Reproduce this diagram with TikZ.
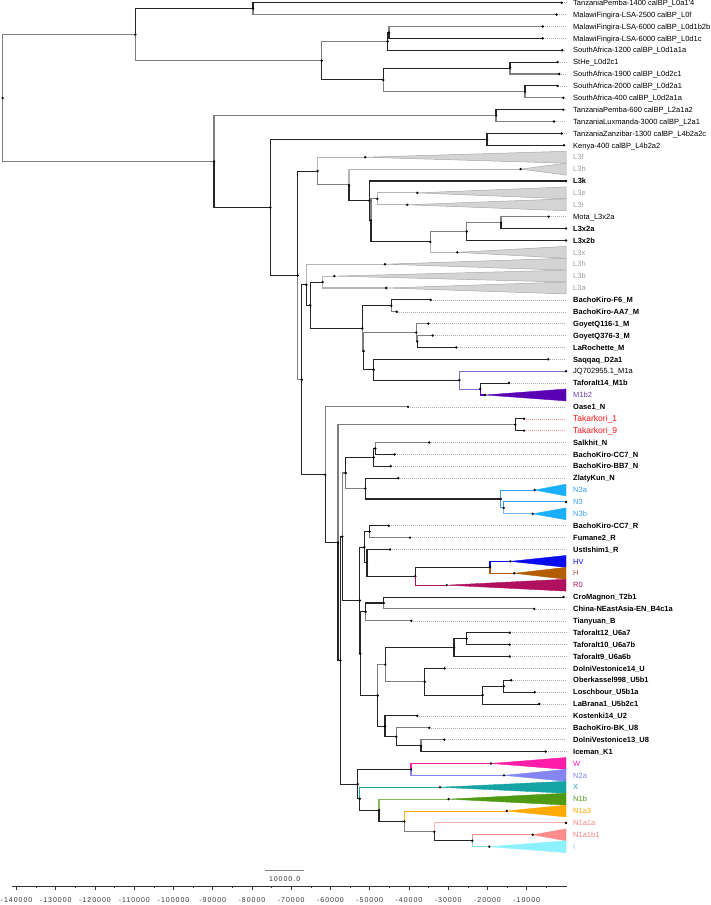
\documentclass[tikz,border=0pt]{standalone}
\usepackage{fontspec}
\setmainfont{Liberation Sans}
\newfontfamily\axisfont[LetterSpace=14]{Liberation Sans}
\definecolor{brd}{HTML}{262626}
\definecolor{brgray}{HTML}{7F7F7F}
\definecolor{brlight}{HTML}{B4B4B4}
\definecolor{dotc}{HTML}{B0B0B0}
\definecolor{l3fill}{HTML}{D4D4D4}
\definecolor{l3draw}{HTML}{A8A8A8}
\definecolor{l3lab}{HTML}{A0A0A0}
\definecolor{m1line}{HTML}{7A6FD0}
\definecolor{m1b2}{HTML}{5A00B4}
\definecolor{m1lab}{HTML}{6A3FB0}
\definecolor{n3line}{HTML}{3A9CF0}
\definecolor{n3tri}{HTML}{1AB0FF}
\definecolor{n3lab}{HTML}{3D9CF5}
\definecolor{hvc}{HTML}{0A0AF0}
\definecolor{hc}{HTML}{B35C00}
\definecolor{hlab}{HTML}{A0522D}
\definecolor{r0c}{HTML}{B0105E}
\definecolor{wc}{HTML}{FF1CA8}
\definecolor{n2ac}{HTML}{8585F2}
\definecolor{xc}{HTML}{16A3A3}
\definecolor{n1bc}{HTML}{4F9A12}
\definecolor{n1a3c}{HTML}{FFAA00}
\definecolor{n1a1ac}{HTML}{FFB0B0}
\definecolor{n1a1alab}{HTML}{FF8080}
\definecolor{n1b1c}{HTML}{FF8C8C}
\definecolor{ic}{HTML}{8CF0FF}
\definecolor{iline}{HTML}{7FD4F0}
\definecolor{ilab}{HTML}{66CCFF}
\definecolor{takc}{HTML}{FF1010}
\definecolor{takdot}{HTML}{FF9A9A}
\definecolor{axc}{HTML}{333333}
\begin{document}
\begin{tikzpicture}[x=1pt,y=-1pt,
  br/.style={draw=brd, line width=1.05pt},
  brg/.style={draw=brgray, line width=1.05pt},
  brl/.style={draw=brlight, line width=1.05pt},
  brc/.style={draw=#1, line width=1.05pt},
  dotl/.style={draw=dotc, line width=0.5pt, dash pattern=on 0.7pt off 1.3pt},
  dotr/.style={draw=takdot, line width=0.5pt, dash pattern=on 0.7pt off 1.3pt},
  lab/.style={anchor=base west, yshift=-2.7pt, inner sep=0pt, font=\fontsize{7.5}{8}\selectfont},
  labb/.style={anchor=base west, yshift=-2.7pt, inner sep=0pt, font=\fontsize{7.5}{8}\selectfont\bfseries},
  labt/.style={anchor=base west, yshift=-3.05pt, inner sep=0pt, text=takc, font=\fontsize{8.5}{9}\selectfont},
  tri/.style={fill=#1, draw=#1, line width=0.4pt},
  trl3/.style={fill=l3fill, draw=l3draw, line width=0.5pt},
  axlab/.style={inner sep=0pt, font=\fontsize{7}{8}\axisfont, text=axc}
]
\useasboundingbox (0,0) rectangle (711,905);
\newcommand\mkleaf[3]{\coordinate (t#1) at (#2,#3); \coordinate (e#1) at (566,#3);}
\newcommand\dotat[1]{\fill (#1) circle (1.35pt);}
\newcommand\mktri[2]{\filldraw[#2] (t#1) -- ([yshift=-5.94pt]e#1) -- ([yshift=5.94pt]e#1) -- cycle;}
% leaves
\mkleaf{0}{561.7}{2.7}
\mkleaf{1}{556.7}{14.59}
\mkleaf{2}{542.7}{26.47}
\mkleaf{3}{542.7}{38.36}
\mkleaf{4}{562.3}{50.25}
\mkleaf{5}{557.7}{62.14}
\mkleaf{6}{559.3}{74.02}
\mkleaf{7}{557.7}{85.91}
\mkleaf{8}{563.3}{97.80}
\mkleaf{9}{563.3}{109.68}
\mkleaf{10}{554}{121.57}
\mkleaf{11}{561.7}{133.46}
\mkleaf{12}{564}{145.34}
\mkleaf{13}{365.3}{157.23}
\mkleaf{14}{520.7}{169.12}
\mkleaf{15}{566}{181.01}
\mkleaf{16}{417.3}{192.89}
\mkleaf{17}{407.3}{204.78}
\mkleaf{18}{548.7}{216.67}
\mkleaf{19}{566}{228.55}
\mkleaf{20}{566}{240.44}
\mkleaf{21}{457.3}{252.33}
\mkleaf{22}{385}{264.21}
\mkleaf{23}{334.3}{276.10}
\mkleaf{24}{386.3}{287.99}
\mkleaf{25}{430.7}{299.88}
\mkleaf{26}{396.7}{311.76}
\mkleaf{27}{428.3}{323.65}
\mkleaf{28}{432.7}{335.54}
\mkleaf{29}{456.3}{347.42}
\mkleaf{30}{548.3}{359.31}
\mkleaf{31}{566}{371.20}
\mkleaf{32}{509}{383.08}
\mkleaf{33}{485}{394.97}
\mkleaf{34}{408}{406.86}
\mkleaf{35}{524}{418.75}
\mkleaf{36}{524}{430.63}
\mkleaf{37}{429.3}{442.52}
\mkleaf{38}{394.7}{454.41}
\mkleaf{39}{390.7}{466.29}
\mkleaf{40}{398.3}{478.18}
\mkleaf{41}{534.7}{490.07}
\mkleaf{42}{566}{501.95}
\mkleaf{43}{532.7}{513.84}
\mkleaf{44}{388.7}{525.73}
\mkleaf{45}{410}{537.62}
\mkleaf{46}{390}{549.50}
\mkleaf{47}{510.3}{561.39}
\mkleaf{48}{514.3}{573.28}
\mkleaf{49}{446.7}{585.16}
\mkleaf{50}{563.5}{597.05}
\mkleaf{51}{534.3}{608.94}
\mkleaf{52}{411.3}{620.82}
\mkleaf{53}{509.7}{632.71}
\mkleaf{54}{509.7}{644.60}
\mkleaf{55}{509.7}{656.48}
\mkleaf{56}{444.7}{668.37}
\mkleaf{57}{511.3}{680.26}
\mkleaf{58}{534.7}{692.15}
\mkleaf{59}{539.3}{704.03}
\mkleaf{60}{417.3}{715.92}
\mkleaf{61}{429.3}{727.81}
\mkleaf{62}{444.3}{739.69}
\mkleaf{63}{545.7}{751.58}
\mkleaf{64}{491}{763.47}
\mkleaf{65}{504}{775.35}
\mkleaf{66}{440}{787.24}
\mkleaf{67}{448.7}{799.13}
\mkleaf{68}{506.7}{811.02}
\mkleaf{69}{566}{822.90}
\mkleaf{70}{532.7}{834.79}
\mkleaf{71}{489.3}{846.68}
% internal nodes
\coordinate (root) at (2.7,98.09);
\coordinate (A) at (135.3,34.65);
\coordinate (a01) at (253,8.65);
\coordinate (B) at (321.7,60.65);
\coordinate (q234) at (387.7,41.33);
\coordinate (q23) at (389,32.42);
\coordinate (q5678) at (383.3,79.97);
\coordinate (q56) at (510,68.08);
\coordinate (q78) at (525,91.86);
\coordinate (C) at (214,161.52);
\coordinate (L2) at (496,115.63);
\coordinate (D) at (270.3,207.4);
\coordinate (L4) at (487,139.4);
\coordinate (E) at (297.7,275.4);
\coordinate (F) at (317.7,171.07);
\coordinate (G) at (349,184.91);
\coordinate (H1) at (369.3,200.7);
\coordinate (H2) at (371,220.39);
\coordinate (Lei) at (377.3,198.84);
\coordinate (Q) at (430.3,241.93);
\coordinate (R) at (466.7,231.53);
\coordinate (S) at (501,222.61);
\coordinate (I) at (301.7,379.73);
\coordinate (J) at (306.3,284.74);
\coordinate (Ln) at (310.3,305.27);
\coordinate (Lba) at (322.7,282.05);
\coordinate (Mn) at (362.3,328.48);
\coordinate (Mn1) at (391.3,305.82);
\coordinate (Mn2) at (363.7,351.14);
\coordinate (Gy) at (416.3,332.57);
\coordinate (Gy2) at (417.3,341.48);
\coordinate (Sq) at (373.7,369.71);
\coordinate (M1) at (459.3,380.12);
\coordinate (M1b) at (480.3,389.03);
\coordinate (K) at (325.3,474.71);
\coordinate (K2) at (338,542.56);
\coordinate (Tak) at (515.3,424.69);
\coordinate (K3) at (340.3,660.42);
\coordinate (K4) at (342.3,536.74);
\coordinate (Ns) at (345.7,472.98);
\coordinate (Ns1) at (373.7,457.38);
\coordinate (Ns1a) at (375.3,448.47);
\coordinate (Ns2) at (365.3,488.58);
\coordinate (N3n) at (500.7,498.98);
\coordinate (N3n2) at (503.7,507.9);
\coordinate (Rr) at (359.7,600.49);
\coordinate (Rr1) at (364.3,547.27);
\coordinate (Rr1a) at (369.7,531.67);
\coordinate (Rr1b) at (367,562.87);
\coordinate (Rh) at (415.3,576.25);
\coordinate (HVH) at (490,567.33);
\coordinate (Rr2) at (360.3,653.7);
\coordinate (Ru1) at (365.7,611.91);
\coordinate (Ru1a) at (383.7,603);
\coordinate (Ru2) at (377.7,695.5);
\coordinate (U1) at (385.3,664.66);
\coordinate (U6) at (454,647.57);
\coordinate (U6a) at (466.7,638.66);
\coordinate (U5) at (424.7,681.74);
\coordinate (U5a) at (482.7,695.12);
\coordinate (U5b) at (503.7,686.2);
\coordinate (U2) at (385,726.33);
\coordinate (U8) at (396.3,736.73);
\coordinate (U8a) at (421,745.64);
\coordinate (Nl) at (357.7,784.09);
\coordinate (WN) at (411,769.41);
\coordinate (Nx) at (359.7,798.76);
\coordinate (N1) at (379,810.28);
\coordinate (N1a) at (404.3,821.42);
\coordinate (N1a1) at (434.3,831.82);
\coordinate (N1ab) at (472.3,840.74);
% dotted extensions
\foreach \i in {0,...,12,18,25,26,27,28,29,30,32,34,37,38,39,40,44,45,46,50,51,52,53,54,55,56,57,58,59,60,61,62,63}{\draw[dotl] (t\i) -- (e\i);}
\draw[dotr] (t35) -- (e35);
\draw[dotr] (t36) -- (e36);
% triangles
\foreach \i in {13,14,16,17,21,22,23,24}{\mktri{\i}{trl3}}
\mktri{33}{tri=m1b2}
\mktri{41}{tri=n3tri}
\mktri{43}{tri=n3tri}
\mktri{47}{tri=hvc}
\mktri{48}{tri=hc}
\mktri{49}{tri=r0c}
\mktri{64}{tri=wc}
\mktri{65}{tri=n2ac}
\mktri{66}{tri=xc}
\mktri{67}{tri=n1bc}
\mktri{68}{tri=n1a3c}
\mktri{70}{tri=n1b1c}
\mktri{71}{tri=ic}
% branches
\draw[brg] (root) |- (A);
\draw[brg] (root) |- (C);
\draw[br] (A) |- (a01);
\draw[brg] (A) |- (B);
\draw[br] (a01) |- (t0);
\draw[brg] (a01) |- (t1);
\draw[brg] (B) |- (q234);
\draw[br] (B) |- (q5678);
\draw[br] (q234) |- (q23);
\draw[br] (q234) |- (t4);
\draw[brg] (q23) |- (t2);
\draw[br] (q23) |- (t3);
\draw[br] (q5678) |- (q56);
\draw[brg] (q5678) |- (q78);
\draw[br] (q56) |- (t5);
\draw[brg] (q56) |- (t6);
\draw[br] (q78) |- (t7);
\draw[brg] (q78) |- (t8);
\draw[brg] (C) |- (L2);
\draw[br] (C) |- (D);
\draw[br] (L2) |- (t9);
\draw[brg] (L2) |- (t10);
\draw[br] (D) |- (L4);
\draw[br] (D) |- (E);
\draw[br] (L4) |- (t11);
\draw[br] (L4) |- (t12);
\draw[br] (E) |- (F);
\draw[brg] (E) |- (I);
\draw[brl] (F) |- (t13);
\draw[brg] (F) |- (G);
\draw[brl] (G) |- (t14);
\draw[br] (G) |- (H1);
\draw[br] (H1) |- (t15);
\draw[br] (H1) |- (H2);
\draw[brg] (H2) |- (Lei);
\draw[br] (H2) |- (Q);
\draw[brl] (Lei) |- (t16);
\draw[brl] (Lei) |- (t17);
\draw[brg] (Q) |- (R);
\draw[brl] (Q) |- (t21);
\draw[brg] (R) |- (S);
\draw[br] (R) |- (t20);
\draw[brg] (S) |- (t18);
\draw[br] (S) |- (t19);
\draw[br] (I) |- (J);
\draw[br] (I) |- (K);
\draw[brl] (J) |- (t22);
\draw[br] (J) |- (Ln);
\draw[br] (Ln) |- (Lba);
\draw[br] (Ln) |- (Mn);
\draw[brl] (Lba) |- (t23);
\draw[brl] (Lba) |- (t24);
\draw[br] (Mn) |- (Mn1);
\draw[brg] (Mn) |- (Mn2);
\draw[br] (Mn1) |- (t25);
\draw[brg] (Mn1) |- (t26);
\draw[brg] (Mn2) |- (Gy);
\draw[br] (Mn2) |- (Sq);
\draw[brg] (Gy) |- (t27);
\draw[brg] (Gy) |- (Gy2);
\draw[brg] (Gy2) |- (t28);
\draw[br] (Gy2) |- (t29);
\draw[br] (Sq) |- (t30);
\draw[br] (Sq) |- (M1);
\draw[brc=m1line] (M1) |- (t31);
\draw[brc=m1line] (M1) |- (M1b);
\draw[br] (M1b) |- (t32);
\draw[brc=m1b2] (M1b) |- (t33);
\draw[brg] (K) |- (t34);
\draw[br] (K) |- (K2);
\draw[brg] (K2) |- (Tak);
\draw[br] (K2) |- (K3);
\draw[br] (Tak) |- (t35);
\draw[br] (Tak) |- (t36);
\draw[br] (K3) |- (K4);
\draw[br] (K3) |- (Nl);
\draw[brg] (K4) |- (Ns);
\draw[br] (K4) |- (Rr);
\draw[br] (Ns) |- (Ns1);
\draw[brg] (Ns) |- (Ns2);
\draw[br] (Ns1) |- (Ns1a);
\draw[br] (Ns1) |- (t39);
\draw[brg] (Ns1a) |- (t37);
\draw[br] (Ns1a) |- (t38);
\draw[br] (Ns2) |- (t40);
\draw[br] (Ns2) |- (N3n);
\draw[brc=n3line] (N3n) |- (t41);
\draw[brc=n3line] (N3n) |- (N3n2);
\draw[brc=n3line] (N3n2) |- (t42);
\draw[brc=n3line!70] (N3n2) |- (t43);
\draw[br] (Rr) |- (Rr1);
\draw[br] (Rr) |- (Rr2);
\draw[br] (Rr1) |- (Rr1a);
\draw[br] (Rr1) |- (Rr1b);
\draw[br] (Rr1a) |- (t44);
\draw[brg] (Rr1a) |- (t45);
\draw[br] (Rr1b) |- (t46);
\draw[br] (Rr1b) |- (Rh);
\draw[br] (Rh) |- (HVH);
\draw[brc=r0c] (Rh) |- (t49);
\draw[brc=hvc] (HVH) |- (t47);
\draw[brc=hc] (HVH) |- (t48);
\draw[br] (Rr2) |- (Ru1);
\draw[br] (Rr2) |- (Ru2);
\draw[br] (Ru1) |- (Ru1a);
\draw[brg] (Ru1) |- (t52);
\draw[br] (Ru1a) |- (t50);
\draw[brg] (Ru1a) |- (t51);
\draw[brg] (Ru2) |- (U1);
\draw[br] (Ru2) |- (U2);
\draw[br] (U1) |- (U6);
\draw[brg] (U1) |- (U5);
\draw[br] (U6) |- (U6a);
\draw[br] (U6) |- (t55);
\draw[br] (U6a) |- (t53);
\draw[br] (U6a) |- (t54);
\draw[br] (U5) |- (t56);
\draw[br] (U5) |- (U5a);
\draw[br] (U5a) |- (U5b);
\draw[br] (U5a) |- (t59);
\draw[br] (U5b) |- (t57);
\draw[br] (U5b) |- (t58);
\draw[br] (U2) |- (t60);
\draw[br] (U2) |- (U8);
\draw[brg] (U8) |- (t61);
\draw[br] (U8) |- (U8a);
\draw[brg] (U8a) |- (t62);
\draw[br] (U8a) |- (t63);
\draw[br] (Nl) |- (WN);
\draw[br] (Nl) |- (Nx);
\draw[brc=wc] (WN) |- (t64);
\draw[brc=n2ac] (WN) |- (t65);
\draw[brc=xc] (Nx) |- (t66);
\draw[br] (Nx) |- (N1);
\draw[brc=n1bc!70] (N1) |- (t67);
\draw[br] (N1) |- (N1a);
\draw[brc=n1a3c] (N1a) |- (t68);
\draw[brg] (N1a) |- (N1a1);
\draw[brc=n1a1ac] (N1a1) |- (t69);
\draw[br] (N1a1) |- (N1ab);
\draw[brc=n1b1c] (N1ab) |- (t70);
\draw[brc=iline] (N1ab) |- (t71);
% dots
\foreach \n in {root,A,a01,B,q234,q23,q5678,q56,q78,C,L2,D,L4,E,F,G,H1,H2,Lei,Q,R,S,I,J,Ln,Lba,Mn,Mn1,Mn2,Gy,Gy2,Sq,M1,M1b,K,K2,Tak,K3,K4,Ns,Ns1,Ns1a,Ns2,N3n,N3n2,Rr,Rr1,Rr1a,Rr1b,Rh,HVH,Rr2,Ru1,Ru1a,Ru2,U1,U6,U6a,U5,U5a,U5b,U2,U8,U8a,Nl,WN,Nx,N1,N1a,N1a1,N1ab}{\dotat{\n}}
\foreach \i in {0,...,71}{\dotat{t\i}}
% labels
\node[lab] (l0) at ([xshift=7pt]e0) {TanzaniaPemba-1400 calBP\_L0a1\textquotesingle 4};
\node[lab] (l1) at ([xshift=7pt]e1) {MalawiFingira-LSA-2500 calBP\_L0f};
\node[lab] (l2) at ([xshift=7pt]e2) {MalawiFingira-LSA-6000 calBP\_L0d1b2b};
\node[lab] (l3) at ([xshift=7pt]e3) {MalawiFingira-LSA-6000 calBP\_L0d1c};
\node[lab] (l4) at ([xshift=7pt]e4) {SouthAfrica-1200 calBP\_L0d1a1a};
\node[lab] (l5) at ([xshift=7pt]e5) {StHe\_L0d2c1};
\node[lab] (l6) at ([xshift=7pt]e6) {SouthAfrica-1900 calBP\_L0d2c1};
\node[lab] (l7) at ([xshift=7pt]e7) {SouthAfrica-2000 calBP\_L0d2a1};
\node[lab] (l8) at ([xshift=7pt]e8) {SouthAfrica-400 calBP\_L0d2a1a};
\node[lab] (l9) at ([xshift=7pt]e9) {TanzaniaPemba-600 calBP\_L2a1a2};
\node[lab] (l10) at ([xshift=7pt]e10) {TanzaniaLuxmanda-3000 calBP\_L2a1};
\node[lab] (l11) at ([xshift=7pt]e11) {TanzaniaZanzibar-1300 calBP\_L4b2a2c};
\node[lab] (l12) at ([xshift=7pt]e12) {Kenya-400 calBP\_L4b2a2};
\node[lab,text=l3lab] (l13) at ([xshift=7pt]e13) {L3f};
\node[lab,text=l3lab] (l14) at ([xshift=7pt]e14) {L3h};
\node[labb] (l15) at ([xshift=7pt]e15) {L3k};
\node[lab,text=l3lab] (l16) at ([xshift=7pt]e16) {L3e};
\node[lab,text=l3lab] (l17) at ([xshift=7pt]e17) {L3i};
\node[lab] (l18) at ([xshift=7pt]e18) {Mota\_L3x2a};
\node[labb] (l19) at ([xshift=7pt]e19) {L3x2a};
\node[labb] (l20) at ([xshift=7pt]e20) {L3x2b};
\node[lab,text=l3lab] (l21) at ([xshift=7pt]e21) {L3x};
\node[lab,text=l3lab] (l22) at ([xshift=7pt]e22) {L3h};
\node[lab,text=l3lab] (l23) at ([xshift=7pt]e23) {L3b};
\node[lab,text=l3lab] (l24) at ([xshift=7pt]e24) {L3a};
\node[labb] (l25) at ([xshift=7pt]e25) {BachoKiro-F6\_M};
\node[labb] (l26) at ([xshift=7pt]e26) {BachoKiro-AA7\_M};
\node[labb] (l27) at ([xshift=7pt]e27) {GoyetQ116-1\_M};
\node[labb] (l28) at ([xshift=7pt]e28) {GoyetQ376-3\_M};
\node[labb] (l29) at ([xshift=7pt]e29) {LaRochette\_M};
\node[labb] (l30) at ([xshift=7pt]e30) {Saqqaq\_D2a1};
\node[lab] (l31) at ([xshift=7pt]e31) {JQ702955.1\_M1a};
\node[labb] (l32) at ([xshift=7pt]e32) {Taforalt14\_M1b};
\node[lab,text=m1lab] (l33) at ([xshift=7pt]e33) {M1b2};
\node[labb] (l34) at ([xshift=7pt]e34) {Oase1\_N};
\node[labt] (l35) at ([xshift=7pt]e35) {Takarkori\_1};
\node[labt] (l36) at ([xshift=7pt]e36) {Takarkori\_9};
\node[labb] (l37) at ([xshift=7pt]e37) {Salkhit\_N};
\node[labb] (l38) at ([xshift=7pt]e38) {BachoKiro-CC7\_N};
\node[labb] (l39) at ([xshift=7pt]e39) {BachoKiro-BB7\_N};
\node[labb] (l40) at ([xshift=7pt]e40) {ZlatyKun\_N};
\node[lab,text=n3lab] (l41) at ([xshift=7pt]e41) {N3a};
\node[lab,text=n3lab] (l42) at ([xshift=7pt]e42) {N3};
\node[lab,text=n3lab] (l43) at ([xshift=7pt]e43) {N3b};
\node[labb] (l44) at ([xshift=7pt]e44) {BachoKiro-CC7\_R};
\node[labb] (l45) at ([xshift=7pt]e45) {Fumane2\_R};
\node[labb] (l46) at ([xshift=7pt]e46) {UstIshim1\_R};
\node[lab,text=hvc] (l47) at ([xshift=7pt]e47) {HV};
\node[lab,text=hlab] (l48) at ([xshift=7pt]e48) {H};
\node[lab,text=r0c] (l49) at ([xshift=7pt]e49) {R0};
\node[labb] (l50) at ([xshift=7pt]e50) {CroMagnon\_T2b1};
\node[labb] (l51) at ([xshift=7pt]e51) {China-NEastAsia-EN\_B4c1a};
\node[labb] (l52) at ([xshift=7pt]e52) {Tianyuan\_B};
\node[labb] (l53) at ([xshift=7pt]e53) {Taforalt12\_U6a7};
\node[labb] (l54) at ([xshift=7pt]e54) {Taforalt10\_U6a7b};
\node[labb] (l55) at ([xshift=7pt]e55) {Taforalt9\_U6a6b};
\node[labb] (l56) at ([xshift=7pt]e56) {DolniVestonice14\_U};
\node[labb] (l57) at ([xshift=7pt]e57) {Oberkassel998\_U5b1};
\node[labb] (l58) at ([xshift=7pt]e58) {Loschbour\_U5b1a};
\node[labb] (l59) at ([xshift=7pt]e59) {LaBrana1\_U5b2c1};
\node[labb] (l60) at ([xshift=7pt]e60) {Kostenki14\_U2};
\node[labb] (l61) at ([xshift=7pt]e61) {BachoKiro-BK\_U8};
\node[labb] (l62) at ([xshift=7pt]e62) {DolniVestonice13\_U8};
\node[labb] (l63) at ([xshift=7pt]e63) {Iceman\_K1};
\node[lab,text=wc] (l64) at ([xshift=7pt]e64) {W};
\node[lab,text=n2ac] (l65) at ([xshift=7pt]e65) {N2a};
\node[lab,text=xc] (l66) at ([xshift=7pt]e66) {X};
\node[lab,text=n1bc] (l67) at ([xshift=7pt]e67) {N1b};
\node[lab,text=n1a3c] (l68) at ([xshift=7pt]e68) {N1a3};
\node[lab,text=n1a1alab] (l69) at ([xshift=7pt]e69) {N1a1a};
\node[lab,text=n1a1alab] (l70) at ([xshift=7pt]e70) {N1a1b1};
\node[lab,text=ilab] (l71) at ([xshift=7pt]e71) {I};
% scale bar
\coordinate (sb0) at (265,870);
\coordinate (sb1) at (304.25,870);
\draw[draw=brgray, line width=1pt] (sb0) -- (sb1);
\node[axlab] (sbl) at (284.6,879.5) {10000.0};
% axis
\coordinate (ax0) at (12,886);
\coordinate (ax1) at (566.7,886);
\draw[draw=axc, line width=0.6pt] (ax0) -- (ax1);
\foreach \k in {1,...,14}{
  \draw[draw=axc, line width=0.6pt] ({566-39.25*\k},886) -- ++(0,3.5);
  \node[axlab] (axl\k) at ({566-39.25*\k},900.5) {-\k0000};
}
\foreach \k in {0,...,13}{
  \draw[draw=axc, line width=0.5pt] ({566-39.25*\k-19.625},886) -- ++(0,2);
}
\end{tikzpicture}
\end{document}
